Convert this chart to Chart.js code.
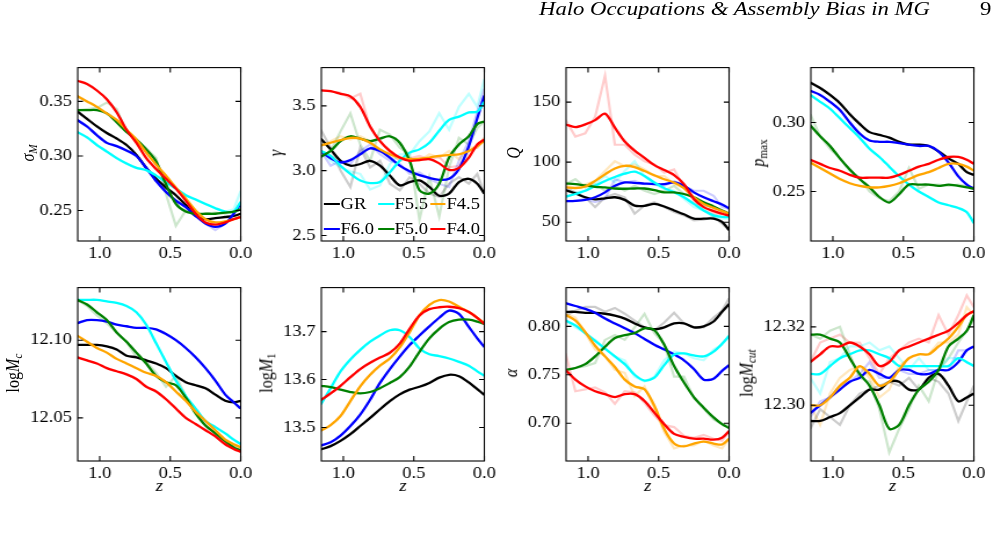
<!DOCTYPE html>
<html><head><meta charset="utf-8">
<script src="https://cdn.jsdelivr.net/npm/chart.js@4/dist/chart.umd.min.js"></script>
<style>
html,body{margin:0;padding:0;background:#fff;overflow:hidden;width:1003px;height:560px;}
#stage{position:absolute;left:0;top:0;width:865px;height:560px;transform:scaleX(1.16);transform-origin:0 0;font-family:"Liberation Serif","Times New Roman",serif;color:#000;}
#stage canvas{position:absolute;}
.yt{position:absolute;white-space:nowrap;font-size:16px;line-height:1;transform:translate(-50%,-50%) rotate(-90deg);}
.yt sub{font-size:0.7em;vertical-align:-0.25em;line-height:0;}
.hd{position:absolute;top:-1px;font-size:19.6px;line-height:1;white-space:nowrap;}
.lgh{position:absolute;height:2.3px;}
.lgt{position:absolute;font-size:16px;line-height:1;white-space:nowrap;}
</style></head>
<body><div id="stage"></div>
<script>
// ---------------- data ----------------
const Z = [1.16,1.09,1.02,0.95,0.88,0.81,0.74,0.67,0.60,0.53,0.46,0.39,0.32,0.25,0.18,0.11,0.05,0.00];
const Z_TICKS = [1.0, 0.5, 0.0];
const SERIES_NAMES = ['GR','F6.0','F5.5','F5.0','F4.5','F4.0'];

// sigma_M
const SIGM_TICKS = [0.25, 0.30, 0.35];
const sigM_GR  = [0.341,0.334,0.327,0.321,0.316,0.310,0.301,0.289,0.279,0.271,0.264,0.255,0.245,0.242,0.243,0.244,0.245,0.247];
const sigM_F60 = [0.333,0.327,0.319,0.312,0.309,0.305,0.300,0.289,0.277,0.267,0.259,0.253,0.245,0.238,0.235,0.238,0.247,0.256];
const sigM_F55 = [0.322,0.317,0.310,0.304,0.298,0.293,0.289,0.287,0.282,0.276,0.270,0.264,0.260,0.256,0.252,0.249,0.249,0.258];
const sigM_F50 = [0.342,0.342,0.342,0.339,0.331,0.322,0.315,0.306,0.295,0.274,0.256,0.249,0.247,0.247,0.247,0.248,0.249,0.251];
const sigM_F45 = [0.355,0.350,0.345,0.339,0.333,0.324,0.315,0.303,0.292,0.282,0.271,0.261,0.250,0.242,0.239,0.240,0.242,0.244];
const sigM_F40 = [0.369,0.366,0.360,0.352,0.340,0.324,0.312,0.298,0.288,0.279,0.270,0.259,0.247,0.239,0.237,0.239,0.242,0.244];
const sigM_F60_raw = [0.333,0.327,0.319,0.312,0.309,0.305,0.300,0.289,0.277,0.267,0.259,0.253,0.245,0.238,0.232,0.238,0.247,0.256];
const sigM_F55_raw = [0.322,0.317,0.310,0.304,0.298,0.293,0.289,0.287,0.282,0.276,0.270,0.264,0.260,0.256,0.252,0.249,0.251,0.268];
const sigM_F50_raw = [0.342,0.343,0.344,0.349,0.343,0.322,0.315,0.307,0.298,0.265,0.236,0.250,0.245,0.247,0.248,0.247,0.249,0.251];

// gamma
const GAM_TICKS = [2.5, 3.0, 3.5];
const gam_GR  = [3.247,3.164,3.076,3.038,3.051,3.076,3.038,2.962,2.886,2.912,2.924,2.874,2.806,2.823,2.912,2.937,2.899,2.823];
const gam_F60 = [3.152,3.096,3.063,3.081,3.126,3.172,3.152,3.101,3.038,2.995,2.965,2.944,2.929,2.937,3.013,3.189,3.404,3.580];
const gam_F55 = [3.152,3.114,3.038,2.975,2.924,2.904,2.912,2.987,3.076,3.139,3.164,3.215,3.308,3.391,3.417,3.449,3.455,3.530];
const gam_F50 = [3.106,3.152,3.227,3.265,3.247,3.227,3.247,3.265,3.215,3.076,2.848,2.823,2.899,3.101,3.202,3.265,3.359,3.379];
const gam_F45 = [3.194,3.215,3.235,3.253,3.247,3.215,3.164,3.126,3.101,3.088,3.093,3.101,3.114,3.121,3.126,3.152,3.189,3.232];
const gam_F40 = [3.619,3.614,3.593,3.573,3.492,3.341,3.227,3.152,3.101,3.076,3.081,3.088,3.056,3.005,3.020,3.101,3.202,3.240];
const gam_GR_raw  = [3.316,3.177,3.000,2.874,3.177,3.025,3.076,2.899,2.848,2.949,2.899,2.823,2.798,2.899,2.949,2.899,2.975,2.823];
const gam_F60_raw = [3.152,3.038,3.076,3.051,3.152,3.202,3.126,3.076,3.051,2.975,2.987,2.937,2.899,2.874,3.076,3.227,3.455,3.631];
const gam_F55_raw = [3.152,3.076,3.025,2.995,2.975,2.854,2.886,3.051,3.126,3.126,3.227,3.303,3.442,3.316,3.492,3.593,3.492,3.707];
const gam_F50_raw = [3.101,3.152,3.303,3.442,3.202,3.076,3.316,3.278,3.177,3.126,2.621,2.949,2.646,3.025,3.253,3.202,3.328,3.379];
const gam_F45_raw = [3.189,3.227,3.265,3.240,3.265,3.227,3.152,3.114,3.088,3.101,3.076,3.126,3.101,3.152,3.088,3.177,3.177,3.253];
const gam_F40_raw = [3.619,3.611,3.601,3.556,3.593,3.328,3.232,3.139,3.076,3.096,3.114,3.088,3.106,3.025,3.038,3.152,3.177,3.253];

// Q
const Q_TICKS = [50, 100, 150];
const Q_GR  = [76.8,74.0,70.8,69.1,69.9,70.8,68.6,63.9,63.7,65.3,63.1,59.8,56.6,53.0,53.0,53.0,50.3,43.4];
const Q_F60 = [67.5,67.8,68.6,70.8,74.9,80.3,83.1,82.8,82.2,81.7,81.7,83.1,80.3,74.9,70.8,67.5,64.8,61.5];
const Q_F55 = [71.3,73.5,76.2,80.3,84.4,87.7,90.4,92.1,88.5,83.1,78.4,74.9,70.8,65.3,59.8,55.7,54.4,54.4];
const Q_F50 = [82.2,81.7,80.6,79.5,79.0,78.1,77.9,78.1,78.1,76.8,74.9,74.9,73.5,70.8,66.7,63.1,59.8,57.1];
const Q_F45 = [79.0,78.4,79.8,84.4,89.9,94.8,97.0,95.9,92.6,89.1,85.8,83.1,78.4,70.8,65.3,62.0,59.3,57.1];
const Q_F40 = [131.4,129.2,131.4,135.0,140.4,128.7,117.2,109.6,103.6,97.5,93.4,89.3,81.7,69.4,62.6,59.3,57.1,55.5];
const Q_GR_raw  = [79.0,74.9,70.8,62.6,70.8,73.5,70.8,57.1,63.9,66.7,62.6,58.5,55.7,51.6,52.2,54.4,48.9,43.4];
const Q_F60_raw = [67.5,68.0,69.4,66.7,69.4,85.8,83.1,84.4,81.7,81.7,80.3,84.4,80.3,76.2,76.2,72.1,62.6,61.2];
const Q_F55_raw = [70.8,74.9,76.2,81.7,88.5,83.1,92.6,100.8,88.5,81.7,77.6,76.2,69.4,62.6,59.8,54.4,53.0,53.0];
const Q_F50_raw = [81.7,85.8,79.0,81.7,76.2,80.3,76.2,80.3,76.2,73.5,76.2,80.3,73.5,70.8,63.9,62.6,59.8,57.1];
const Q_F45_raw = [80.3,79.0,81.7,84.4,92.6,100.8,96.7,98.1,94.0,88.5,88.5,81.7,79.0,69.4,65.3,60.4,58.5,56.6];
const Q_F40_raw = [135.0,121.3,124.0,137.7,171.9,114.5,114.5,106.3,100.8,98.1,91.3,94.0,79.0,68.0,59.8,57.1,56.6,55.7];

// p_max
const PMAX_TICKS = [0.25, 0.30];
const p_GR  = [0.329,0.325,0.320,0.314,0.306,0.299,0.293,0.291,0.289,0.286,0.284,0.284,0.283,0.279,0.274,0.270,0.264,0.262];
const p_F60 = [0.323,0.320,0.315,0.309,0.300,0.292,0.287,0.286,0.286,0.285,0.284,0.283,0.283,0.279,0.271,0.261,0.255,0.252];
const p_F55 = [0.320,0.315,0.310,0.303,0.296,0.289,0.281,0.275,0.268,0.261,0.255,0.250,0.246,0.242,0.240,0.238,0.235,0.227];
const p_F50 = [0.298,0.290,0.283,0.274,0.266,0.259,0.253,0.246,0.242,0.248,0.255,0.255,0.255,0.254,0.255,0.254,0.253,0.252];
const p_F45 = [0.271,0.267,0.263,0.259,0.256,0.254,0.253,0.253,0.254,0.256,0.259,0.262,0.264,0.267,0.270,0.270,0.268,0.265];
const p_F40 = [0.273,0.270,0.267,0.265,0.262,0.260,0.260,0.260,0.260,0.262,0.265,0.268,0.270,0.273,0.275,0.275,0.273,0.270];
const p_F50_raw = [0.306,0.290,0.281,0.274,0.265,0.260,0.250,0.245,0.243,0.250,0.267,0.252,0.255,0.255,0.254,0.255,0.254,0.253];

// log M_c
const MC_TICKS = [12.05, 12.10];
const Mc_GR  = [12.097,12.097,12.097,12.096,12.094,12.090,12.089,12.087,12.085,12.082,12.077,12.073,12.071,12.069,12.065,12.061,12.060,12.061];
const Mc_F60 = [12.111,12.113,12.113,12.112,12.110,12.109,12.108,12.108,12.107,12.104,12.100,12.095,12.089,12.082,12.074,12.065,12.060,12.056];
const Mc_F55 = [12.126,12.126,12.126,12.125,12.124,12.122,12.118,12.110,12.098,12.086,12.074,12.064,12.056,12.048,12.044,12.040,12.036,12.033];
const Mc_F50 = [12.126,12.123,12.118,12.113,12.105,12.099,12.092,12.085,12.077,12.073,12.071,12.063,12.053,12.045,12.040,12.035,12.031,12.029];
const Mc_F45 = [12.103,12.099,12.095,12.092,12.088,12.085,12.082,12.079,12.077,12.073,12.067,12.061,12.054,12.048,12.042,12.036,12.033,12.031];
const Mc_F40 = [12.089,12.087,12.085,12.082,12.080,12.078,12.075,12.070,12.067,12.062,12.056,12.050,12.046,12.042,12.038,12.033,12.030,12.028];
const Mc_F50_raw = [12.126,12.122,12.116,12.111,12.105,12.099,12.089,12.086,12.079,12.070,12.077,12.064,12.052,12.045,12.040,12.035,12.032,12.030];

// log M_1
const M1_TICKS = [13.5, 13.6, 13.7];
const M1_GR  = [13.454,13.461,13.472,13.486,13.503,13.520,13.538,13.555,13.569,13.579,13.585,13.593,13.604,13.610,13.607,13.594,13.580,13.568];
const M1_F60 = [13.462,13.469,13.483,13.503,13.527,13.558,13.593,13.622,13.648,13.672,13.692,13.711,13.729,13.744,13.737,13.710,13.686,13.668];
const M1_F55 = [13.548,13.582,13.617,13.642,13.662,13.679,13.692,13.703,13.703,13.689,13.665,13.653,13.649,13.644,13.637,13.629,13.617,13.608];
const M1_F50 = [13.587,13.584,13.579,13.574,13.571,13.574,13.582,13.593,13.605,13.627,13.658,13.686,13.706,13.720,13.725,13.725,13.721,13.716];
const M1_F45 = [13.493,13.505,13.524,13.555,13.586,13.610,13.629,13.644,13.667,13.699,13.734,13.756,13.766,13.763,13.752,13.741,13.729,13.718];
const M1_F40 = [13.557,13.571,13.587,13.605,13.622,13.635,13.646,13.656,13.675,13.706,13.734,13.747,13.751,13.752,13.749,13.741,13.729,13.716];

// alpha
const AL_TICKS = [0.70, 0.75, 0.80];
const al_GR  = [0.815,0.815,0.814,0.814,0.813,0.811,0.808,0.803,0.799,0.797,0.799,0.803,0.803,0.799,0.800,0.805,0.815,0.823];
const al_F60 = [0.824,0.821,0.818,0.814,0.808,0.803,0.798,0.793,0.787,0.781,0.776,0.771,0.765,0.756,0.745,0.746,0.754,0.760];
const al_F55 = [0.806,0.801,0.793,0.785,0.777,0.769,0.761,0.750,0.744,0.747,0.760,0.771,0.772,0.770,0.769,0.774,0.782,0.790];
const al_F50 = [0.755,0.757,0.761,0.769,0.779,0.788,0.791,0.793,0.798,0.796,0.781,0.759,0.742,0.727,0.716,0.706,0.699,0.695];
const al_F45 = [0.812,0.806,0.794,0.780,0.769,0.758,0.745,0.738,0.735,0.718,0.694,0.679,0.676,0.679,0.681,0.679,0.678,0.684];
const al_F40 = [0.755,0.745,0.738,0.733,0.730,0.727,0.730,0.730,0.723,0.711,0.699,0.689,0.686,0.684,0.684,0.683,0.685,0.692];
const al_GR_raw  = [0.811,0.816,0.820,0.820,0.815,0.819,0.813,0.806,0.799,0.796,0.804,0.814,0.803,0.799,0.799,0.809,0.816,0.829];
const al_F55_raw = [0.806,0.799,0.793,0.786,0.777,0.769,0.765,0.748,0.743,0.748,0.765,0.774,0.772,0.767,0.765,0.776,0.781,0.791];
const al_F50_raw = [0.755,0.757,0.759,0.762,0.786,0.791,0.786,0.799,0.813,0.793,0.782,0.748,0.748,0.726,0.715,0.704,0.699,0.698];
const al_F45_raw = [0.813,0.809,0.793,0.776,0.769,0.755,0.752,0.728,0.738,0.715,0.691,0.674,0.677,0.677,0.682,0.677,0.674,0.684];
const al_F40_raw = [0.772,0.733,0.735,0.737,0.732,0.720,0.733,0.732,0.721,0.708,0.698,0.696,0.687,0.685,0.688,0.684,0.682,0.692];

// log M_cut
const MCUT_TICKS = [12.30, 12.32];
const Mcut_GR  = [12.296,12.296,12.297,12.298,12.300,12.302,12.304,12.304,12.306,12.306,12.304,12.304,12.307,12.308,12.305,12.301,12.302,12.303];
const Mcut_F60 = [12.298,12.300,12.302,12.304,12.306,12.307,12.309,12.308,12.307,12.309,12.309,12.308,12.308,12.309,12.309,12.311,12.314,12.315];
const Mcut_F55 = [12.308,12.308,12.310,12.312,12.313,12.314,12.314,12.313,12.312,12.310,12.310,12.310,12.310,12.310,12.310,12.312,12.311,12.310];
const Mcut_F50 = [12.318,12.318,12.317,12.316,12.312,12.308,12.305,12.300,12.294,12.295,12.300,12.304,12.306,12.309,12.315,12.317,12.319,12.323];
const Mcut_F45 = [12.300,12.300,12.302,12.305,12.307,12.310,12.308,12.305,12.306,12.309,12.312,12.313,12.313,12.315,12.317,12.320,12.323,12.324];
const Mcut_F40 = [12.311,12.313,12.315,12.315,12.316,12.315,12.313,12.310,12.311,12.314,12.315,12.316,12.317,12.318,12.319,12.321,12.323,12.324];
const Mcut_GR_raw  = [12.294,12.299,12.297,12.295,12.300,12.303,12.304,12.305,12.306,12.305,12.307,12.304,12.307,12.306,12.303,12.296,12.301,12.305];
const Mcut_F60_raw = [12.297,12.301,12.302,12.305,12.306,12.308,12.311,12.307,12.307,12.309,12.308,12.308,12.309,12.309,12.309,12.314,12.314,12.315];
const Mcut_F55_raw = [12.307,12.303,12.311,12.312,12.315,12.315,12.316,12.314,12.315,12.312,12.309,12.312,12.309,12.309,12.312,12.312,12.311,12.310];
const Mcut_F50_raw = [12.318,12.317,12.319,12.320,12.313,12.307,12.306,12.299,12.288,12.294,12.299,12.305,12.301,12.309,12.312,12.316,12.319,12.322];
const Mcut_F45_raw = [12.300,12.295,12.303,12.307,12.309,12.310,12.307,12.302,12.304,12.310,12.312,12.313,12.313,12.316,12.316,12.318,12.325,12.323];
const Mcut_F40_raw = [12.311,12.316,12.317,12.318,12.316,12.316,12.312,12.308,12.312,12.314,12.316,12.317,12.316,12.323,12.318,12.323,12.328,12.325];

// ---------------- styling / layout ----------------
const COLORS = ['#000000','#0000ff','#00ffff','#008000','#ffa500','#ff0000'];
const FAINT  = ['rgba(0,0,0,0.2)','rgba(0,0,255,0.2)','rgba(0,255,255,0.25)','rgba(0,128,0,0.2)','rgba(255,165,0,0.25)','rgba(255,0,0,0.2)'];
const FONT = "'Liberation Serif','Times New Roman',serif";
const S = 1.16;                   // horizontal stretch of the figure
const COL_L = [77.3, 321.7, 566.3, 811];
const ROW_T = [65, 285];
const PW = 163, PH = 176;
const YW = 46, PT = 12;
const TITLE_X = [28.3, 275.7, 514, 758.3, 13.3, 266.7, 511.7, 746.7];

const PANELS = [
  {label:'<i>σ<sub>M</sub></i>', min:0.222, max:0.381, ticks:SIGM_TICKS, dec:2,
   smooth:[sigM_GR,sigM_F60,sigM_F55,sigM_F50,sigM_F45,sigM_F40], raw:[null,sigM_F60_raw,sigM_F55_raw,sigM_F50_raw,null,null]},
  {label:'<i>γ</i>', min:2.457, max:3.795, ticks:GAM_TICKS, dec:1,
   smooth:[gam_GR,gam_F60,gam_F55,gam_F50,gam_F45,gam_F40], raw:[gam_GR_raw,gam_F60_raw,gam_F55_raw,gam_F50_raw,gam_F45_raw,gam_F40_raw]},
  {label:'<i>Q</i>', min:34.4, max:178.7, ticks:Q_TICKS, dec:0,
   smooth:[Q_GR,Q_F60,Q_F55,Q_F50,Q_F45,Q_F40], raw:[Q_GR_raw,Q_F60_raw,Q_F55_raw,Q_F50_raw,Q_F45_raw,Q_F40_raw]},
  {label:'<i>p</i><sub>max</sub>', min:0.2141, max:0.3398, ticks:PMAX_TICKS, dec:2,
   smooth:[p_GR,p_F60,p_F55,p_F50,p_F45,p_F40], raw:[null,null,null,p_F50_raw,null,null]},
  {label:'log<i>M<sub>c</sub></i>', min:12.0222, max:12.1339, ticks:MC_TICKS, dec:2,
   smooth:[Mc_GR,Mc_F60,Mc_F55,Mc_F50,Mc_F45,Mc_F40], raw:[null,null,null,Mc_F50_raw,null,null]},
  {label:'log<i>M</i><sub>1</sub>', min:13.43, max:13.792, ticks:M1_TICKS, dec:1,
   smooth:[M1_GR,M1_F60,M1_F55,M1_F50,M1_F45,M1_F40], raw:[null,null,null,null,null,null]},
  {label:'<i>α</i>', min:0.661, max:0.840, ticks:AL_TICKS, dec:2,
   smooth:[al_GR,al_F60,al_F55,al_F50,al_F45,al_F40], raw:[al_GR_raw,null,al_F55_raw,al_F50_raw,al_F45_raw,al_F40_raw]},
  {label:'log<i>M<sub>cut</sub></i>', min:12.2858, max:12.3300, ticks:MCUT_TICKS, dec:2,
   smooth:[Mcut_GR,Mcut_F60,Mcut_F55,Mcut_F50,Mcut_F45,Mcut_F40], raw:[Mcut_GR_raw,Mcut_F60_raw,Mcut_F55_raw,Mcut_F50_raw,Mcut_F45_raw,Mcut_F40_raw]}
];

const stage = document.getElementById('stage');

// frame + inward ticks on all four sides, placed through the chart's scales
const framePlugin = {
  id: 'frame',
  afterDraw(chart) {
    const {ctx, chartArea: a, scales} = chart;
    ctx.save();
    ctx.strokeStyle = '#000';
    ctx.lineWidth = 1.1;
    ctx.strokeRect(a.left, a.top, a.right - a.left, a.bottom - a.top);
    ctx.beginPath();
    scales.x.ticks.forEach(t => {
      const px = scales.x.getPixelForValue(t.value);
      ctx.moveTo(px, a.bottom); ctx.lineTo(px, a.bottom - 5);
      ctx.moveTo(px, a.top); ctx.lineTo(px, a.top + 5);
    });
    scales.y.ticks.forEach(t => {
      const py = scales.y.getPixelForValue(t.value);
      ctx.moveTo(a.left, py); ctx.lineTo(a.left + 4.5, py);
      ctx.moveTo(a.right, py); ctx.lineTo(a.right - 4.5, py);
    });
    ctx.stroke();
    ctx.restore();
  }
};

PANELS.forEach((p, k) => {
  const col = k % 4, row = Math.floor(k / 4);
  const XH = row === 0 ? 25 : 35;
  const innerL = COL_L[col] / S, innerW = PW / S;
  const cw = Math.ceil(YW + innerW + 18);
  const padR = cw - YW - innerW;
  const ch = PT + PH + XH;
  const cv = document.createElement('canvas');
  cv.width = cw; cv.height = ch;
  cv.style.left = (innerL - YW) + 'px';
  cv.style.top = (ROW_T[row] - PT) + 'px';
  cv.style.width = cw + 'px'; cv.style.height = ch + 'px';
  stage.appendChild(cv);

  const datasets = [];
  p.raw.forEach((arr, i) => {
    if (!arr) return;
    datasets.push({label: SERIES_NAMES[i] + ' raw', data: Z.map((z, j) => ({x: z, y: arr[j]})),
      borderColor: FAINT[i], borderWidth: 2.2, pointRadius: 0, tension: 0, fill: false, order: 20 + i});
  });
  p.smooth.forEach((arr, i) => {
    datasets.push({label: SERIES_NAMES[i], data: Z.map((z, j) => ({x: z, y: arr[j]})),
      borderColor: COLORS[i], borderWidth: 2.3, pointRadius: 0, tension: 0.3, fill: false, order: 10 - i});
  });

  new Chart(cv, {
    type: 'line',
    data: {datasets},
    options: {
      responsive: false, animation: false, devicePixelRatio: 1, events: [],
      layout: {padding: {left: 0, top: PT, right: padR, bottom: 0}},
      plugins: {legend: {display: false}, tooltip: {enabled: false}},
      scales: {
        x: {
          type: 'linear', reverse: true, min: 0, max: 1.156,
          afterBuildTicks: s => { s.ticks = Z_TICKS.map(v => ({value: v})); },
          afterFit: s => { s.height = XH; },
          grid: {display: false, drawTicks: false}, border: {display: false},
          ticks: {autoSkip: false, maxRotation: 0, minRotation: 0, padding: 3, color: '#000',
                  font: {family: FONT, size: 16}, callback: v => Number(v).toFixed(1)},
          title: {display: row === 1, text: 'z', color: '#000', padding: 0,
                  font: {family: FONT, size: 16, style: 'italic'}}
        },
        y: {
          type: 'linear', min: p.min, max: p.max,
          afterBuildTicks: s => { s.ticks = p.ticks.map(v => ({value: v})); },
          afterFit: s => { s.width = YW; },
          grid: {display: false, drawTicks: false}, border: {display: false},
          ticks: {autoSkip: false, padding: 5, color: '#000',
                  font: {family: FONT, size: 16}, callback: v => Number(v).toFixed(p.dec)}
        }
      }
    },
    plugins: [framePlugin]
  });

  const t = document.createElement('div');
  t.className = 'yt';
  t.innerHTML = p.label;
  t.style.left = (TITLE_X[k] / S) + 'px';
  t.style.top = (ROW_T[row] + PH / 2) + 'px';
  stage.appendChild(t);
});

// legend inside the gamma panel (2 rows x 3 columns)
const LEG_ORDER = [[0, 2, 4], [1, 3, 5]];
const LEG_X = [324, 378, 430];
const LEG_Y = [204, 229];
LEG_ORDER.forEach((rowItems, r) => {
  rowItems.forEach((si, c) => {
    const h = document.createElement('div');
    h.className = 'lgh';
    h.style.background = COLORS[si];
    h.style.left = (LEG_X[c] / S) + 'px';
    h.style.width = (16 / S) + 'px';
    h.style.top = (LEG_Y[r] - 1.15) + 'px';
    stage.appendChild(h);
    const tx = document.createElement('div');
    tx.className = 'lgt';
    tx.textContent = SERIES_NAMES[si];
    tx.style.left = ((LEG_X[c] + 16.5) / S) + 'px';
    tx.style.top = (LEG_Y[r] - 8) + 'px';
    stage.appendChild(tx);
  });
});

// running header
const hd = document.createElement('div');
hd.className = 'hd';
hd.innerHTML = '<i>Halo Occupations &amp; Assembly Bias in MG</i>';
hd.style.left = (539 / S) + 'px';
stage.appendChild(hd);
const pg = document.createElement('div');
pg.className = 'hd';
pg.textContent = '9';
pg.style.left = (980 / S) + 'px';
stage.appendChild(pg);
</script>
</body></html>
